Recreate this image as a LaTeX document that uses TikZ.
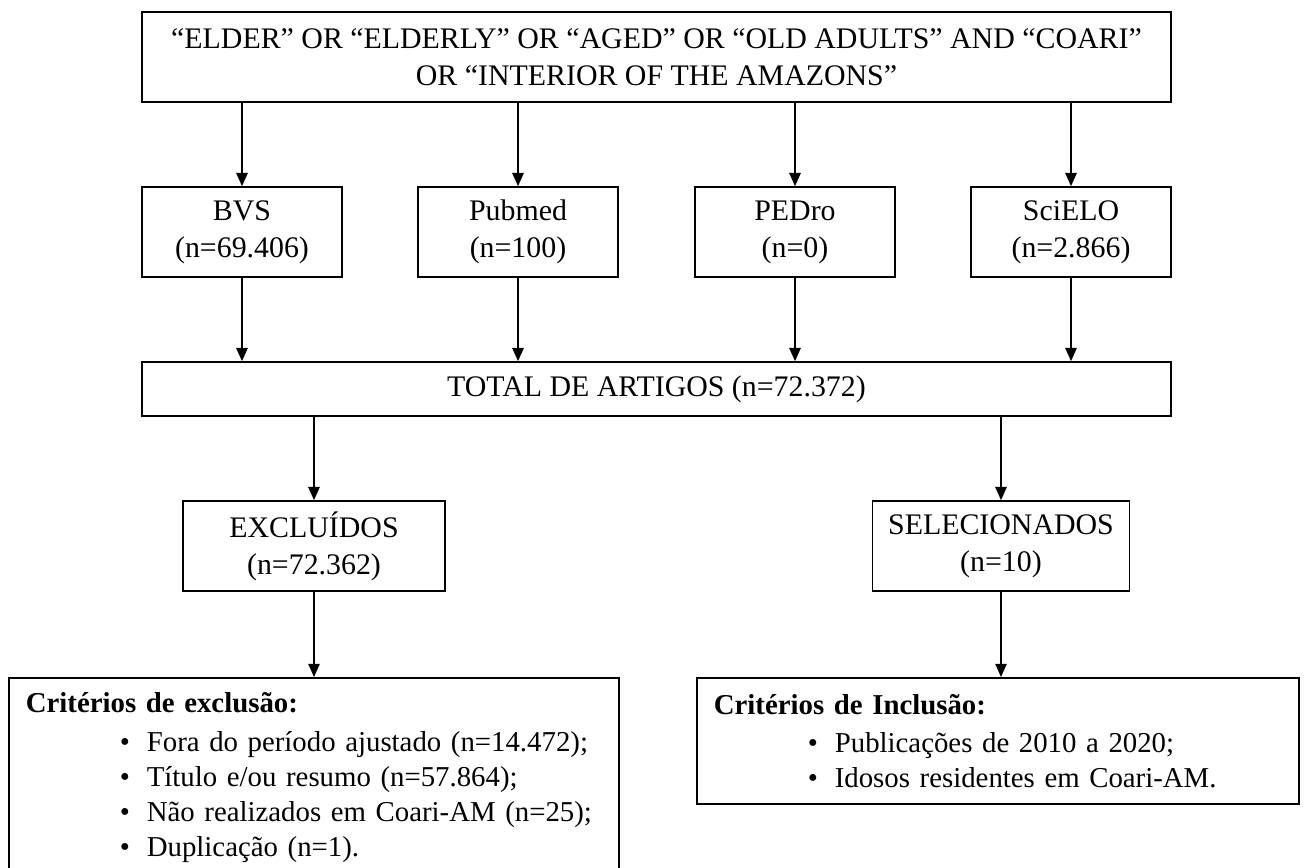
\documentclass[tikz,border=0pt]{standalone}
\usepackage{fontspec}
\setmainfont{Liberation Serif}
\usetikzlibrary{arrows.meta}

\begin{document}
\begin{tikzpicture}[x=0.02cm, y=-0.02cm, line width=1pt,
		box/.style={draw, rectangle, align=center, font=\fontsize{17}{21}\selectfont},
		dbbox/.style={box, minimum width=4cm, minimum height=1.8cm},
		critbox/.style={draw, rectangle, align=left, inner xsep=0.34cm, font=\fontsize{16.4}{19.9}\selectfont},
		arr/.style={-{Triangle[length=7.5pt, width=6.5pt]}, line width=0.8pt}]
				\useasboundingbox (0,0) rectangle (1304,867);
				\path (656.5,57) node[box, minimum width=20.58cm, minimum height=1.8cm] (query){“ELDER” OR “ELDERLY” OR “AGED” OR “OLD ADULTS” AND “COARI”\\OR “INTERIOR OF THE AMAZONS”}
				(242,232) node[dbbox] (bvs){BVS\\(n=69.406)}
				(518,232) node[dbbox] (pubmed){Pubmed\\(n=100)}
				(795,232) node[dbbox] (pedro){PEDro\\(n=0)}
				(1071,232) node[dbbox] (scielo){SciELO\\(n=2.866)}
				(656.5,389) node[box, minimum width=20.58cm, minimum height=1.08cm] (total){TOTAL DE ARTIGOS (n=72.372)}
				(314,546) node[box, minimum width=5.24cm, minimum height=1.8cm] (excl){EXCLUÍDOS\\(n=72.362)}
				(1001,546) node[box, minimum width=5.14cm, minimum height=1.8cm] (sel){SELECIONADOS\\(n=10)}
				(8,677) node[critbox, anchor=north west, minimum width=12.2cm, minimum height=3.98cm, text width=11.52cm] (critexcl){\textbf{Critérios de exclusão:}\\[2pt]
					\hspace*{1.88cm}\makebox[0.54cm][l]{\textbullet}Fora do período ajustado (n=14.472);\\
					\hspace*{1.88cm}\makebox[0.54cm][l]{\textbullet}Título e/ou resumo (n=57.864);\\
					\hspace*{1.88cm}\makebox[0.54cm][l]{\textbullet}Não realizados em Coari-AM (n=25);\\
					\hspace*{1.88cm}\makebox[0.54cm][l]{\textbullet}Duplicação (n=1).}
				(696,677) node[critbox, anchor=north west, minimum width=12.04cm, minimum height=2.52cm, text width=11.36cm] (critinc){\textbf{Critérios de Inclusão:}\\[2pt]
					\hspace*{1.88cm}\makebox[0.54cm][l]{\textbullet}Publicações de 2010 a 2020;\\
					\hspace*{1.88cm}\makebox[0.54cm][l]{\textbullet}Idosos residentes em Coari-AM.};
				
				\foreach \db in {bvs, pubmed, pedro, scielo}{
					\draw[arr] (query.south -| \db.north) -- (\db.north);
					\draw[arr] (\db.south) -- (\db.south |- total.north);
				}
				\draw[arr] (total.south -| excl.north) -- (excl.north);
				\draw[arr] (total.south -| sel.north) -- (sel.north);
				\draw[arr] (excl.south) -- (excl.south |- critexcl.north);
				\draw[arr] (sel.south) -- (sel.south |- critinc.north);
			\end{tikzpicture}
\end{document}
